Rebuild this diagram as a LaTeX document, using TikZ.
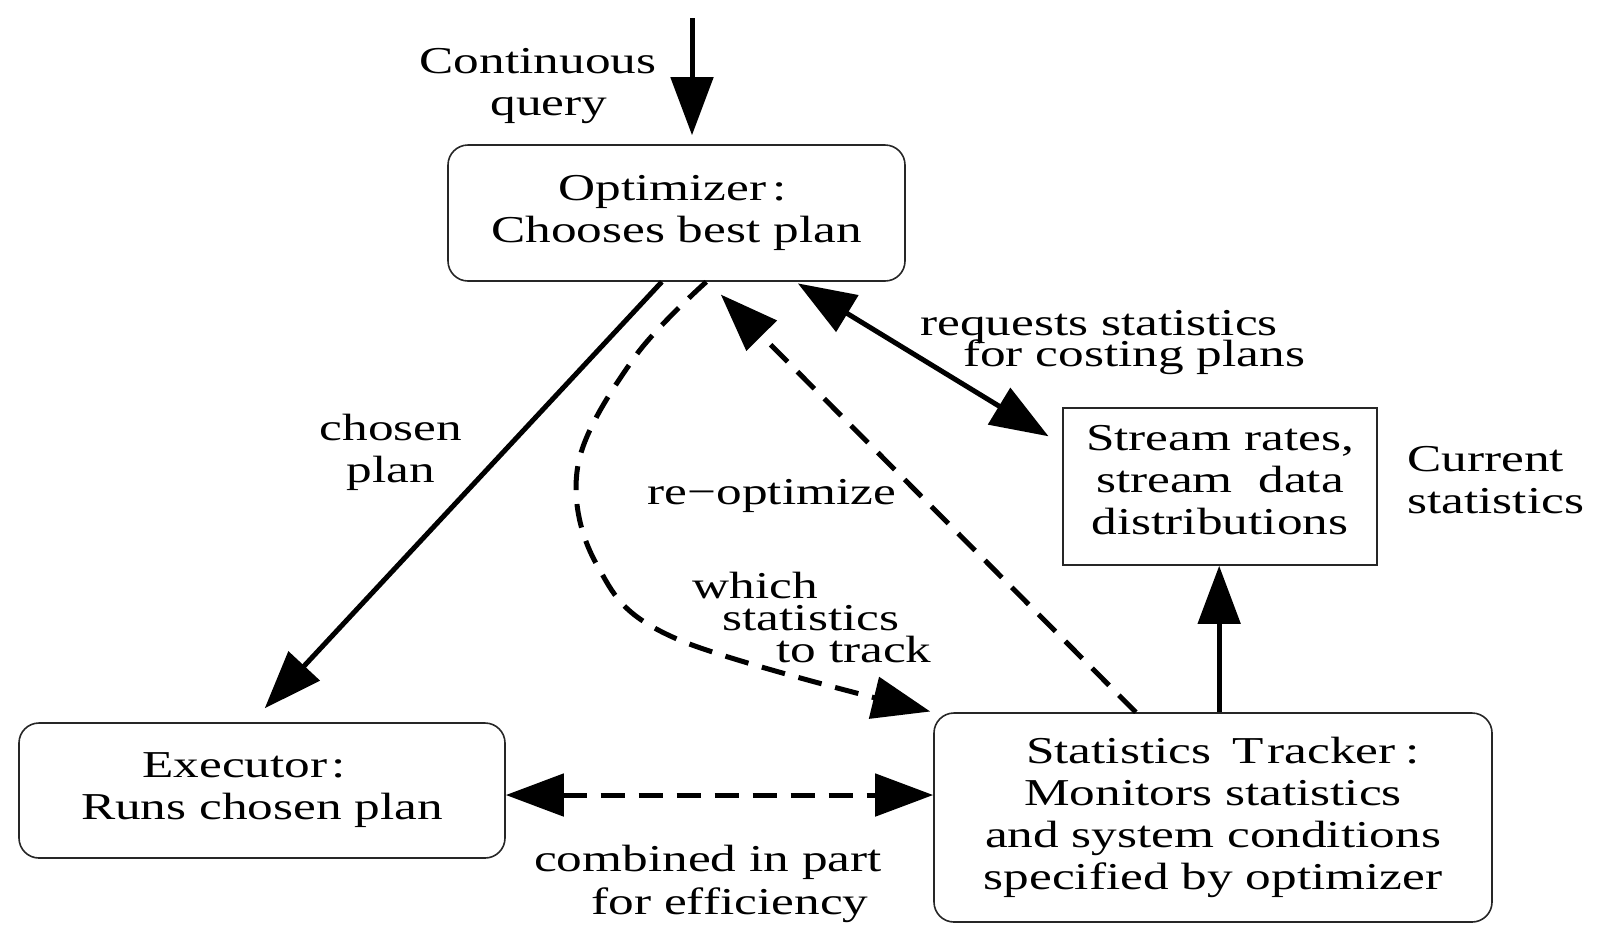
\documentclass[tikz,border=0pt]{standalone}
\usepackage{fontspec}
\setmainfont{Liberation Serif}[FakeStretch=1.35]
\usetikzlibrary{arrows.meta,calc}
\begin{document}
\begin{tikzpicture}[x=0.5pt,y=-0.5pt,
  txt/.style={font=\fontsize{19}{21}\selectfont},
  box/.style={txt, draw=black!85, line width=0.8pt, rounded corners=10pt, inner sep=0pt, align=center},
  sqbox/.style={box, rounded corners=0pt},
  lbl/.style={txt, align=center, inner sep=0pt},
  tight/.style={lbl, text height=10pt, text depth=2pt, anchor=base},
  conn/.style={line width=2.5pt, -{Triangle[length=29pt,width=21pt]}},
  dconn/.style={conn, dash pattern=on 12pt off 7pt},
  both/.style={{Triangle[length=29pt,width=21pt]}-{Triangle[length=29pt,width=21pt]}}
]
\useasboundingbox (0,0) rectangle (1604,934);

\node[box, minimum width=228.5pt, minimum height=68pt] (opt) at (676.5,213) {Optimizer\hspace{3pt}:\hspace*{4pt}\\Chooses best plan};
\node[box, minimum width=243pt, minimum height=67.5pt] (exec) at (262,790.5) {Executor\hspace{2pt}:\hspace*{18pt}\\Runs chosen plan};
\node[box, minimum width=279pt, minimum height=104.5pt] (track) at (1213,817.5) {\hspace*{10pt}Statistics\hspace{0.55em}T\hspace{2pt}racker\hspace{5pt}:\\Monitors statistics\\and system conditions\\specified by optimizer};
\node[sqbox, minimum width=157pt, minimum height=78.5pt] (stream) at (1220,486.5) {};
\node[lbl] (lstream) at (1220,480) {Stream rates,\\stream\ \ data\\distributions};

% labels
\node[lbl] (lq) at (538,86) {Continuous\\\hspace*{11pt}query};
\node[lbl] (lchosen) at (391,452) {chosen\\plan};
\node[lbl] (lreopt) at (772,496) {re\textminus optimize};
\node[tight] (lw1) at (755,598) {which};
\node[tight] (lw2) at (811,630) {statistics};
\node[tight] (lw3) at (854,662) {to track};
\node[tight] (lr1) at (1099,335) {requests statistics};
\node[tight] (lr2) at (1134,366) {for costing plans};
\node[lbl, anchor=west, align=left] (lcur) at (1407,480) {Current\\statistics};
\node[lbl] (lc1) at (708,862) {combined in part};
\node[lbl] (lc2) at (730,905) {for efficiency};

% connectors
\coordinate (qin) at (692,18);
\coordinate (optin) at ($(opt.north west)!0.534!(opt.north east)$);
\draw[conn, shorten >=4.5pt] (qin) -- (qin |- optin);

\draw[conn, shorten >=9.5pt]
  ($(opt.south west)!0.468!(opt.south east)$) -- ($(exec.north west)!0.479!(exec.north east)$);

\coordinate (cs) at ($(opt.south west)!0.565!(opt.south east)$);
\draw[dconn, shorten >=1.5pt] plot[smooth, tension=0.6] coordinates
  {(cs) (634,358) (578,465) (597,565) (677,639) (track.north west)};

\draw[dconn, shorten >=9pt]
  ($(track.north west)!0.362!(track.north east)$) -- ($(opt.south west)!0.569!(opt.south east)$);

\draw[conn, both, shorten >=8pt, shorten <=1.5pt]
  ($(opt.south west)!0.759!(opt.south east)$) -- ($(stream.north west)!0.236!(stream.south west)$);

\coordinate (tr) at ($(track.north west)!0.511!(track.north east)$);
\draw[conn] (tr) -- (tr |- stream.south);

\coordinate (ee) at ($(exec.north east)!0.533!(exec.south east)$);
\draw[dconn, both] (ee) -- (ee -| track.west);
\end{tikzpicture}
\end{document}
